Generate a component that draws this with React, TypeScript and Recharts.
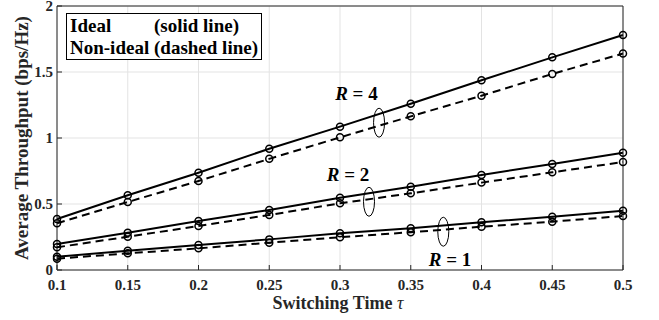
import React from 'react';
import { LineChart, Line, XAxis, YAxis, CartesianGrid, ReferenceDot } from 'recharts';

// switching time values on the x axis
const TAU = [0.1, 0.15, 0.2, 0.25, 0.3, 0.35, 0.4, 0.45, 0.5];
const Y_TICKS = [0, 0.5, 1, 1.5, 2];

// throughput, R = 4 / 2 / 1
const R4_IDEAL = [0.386, 0.566, 0.737, 0.919, 1.086, 1.26, 1.437, 1.611, 1.78];
const R4_NONIDEAL = [0.354, 0.515, 0.674, 0.842, 1.005, 1.164, 1.32, 1.485, 1.64];
const R2_IDEAL = [0.197, 0.283, 0.371, 0.455, 0.548, 0.631, 0.72, 0.803, 0.889];
const R2_NONIDEAL = [0.172, 0.252, 0.333, 0.417, 0.505, 0.581, 0.662, 0.74, 0.818];
const R1_IDEAL = [0.101, 0.146, 0.189, 0.232, 0.278, 0.316, 0.361, 0.404, 0.449];
const R1_NONIDEAL = [0.086, 0.126, 0.164, 0.207, 0.248, 0.286, 0.328, 0.366, 0.409];

// "R = n" labels and the ellipses grouping each pair of curves
const R_LABELS = [
  { r: '4', x: 0.3116, y: 1.288 },
  { r: '2', x: 0.3057, y: 0.677 },
  { r: '1', x: 0.3777, y: 0.03 },
];
const ELLIPSES = [
  { x: 0.3276, y: 1.116 },
  { x: 0.3205, y: 0.517 },
  { x: 0.373, y: 0.29 },
];

const data = TAU.map((t, i) => ({
  tau: t,
  r4i: R4_IDEAL[i],
  r4n: R4_NONIDEAL[i],
  r2i: R2_IDEAL[i],
  r2n: R2_NONIDEAL[i],
  r1i: R1_IDEAL[i],
  r1n: R1_NONIDEAL[i],
}));

const FONT = 'Liberation Serif, Times New Roman, Times, DejaVu Serif, serif';
const AXIS = '#262626';
const tickStyle = { fill: AXIS, fontSize: 15, fontWeight: 'bold', fontFamily: FONT };
const dot = { r: 3.5, fill: 'none', stroke: '#000', strokeWidth: 1.5, strokeDasharray: '' };

const xTitle = (props: any) => {
  const vb = props.viewBox;
  return (
    <text x={vb.x + vb.width / 2 - 2} y={vb.y + 39} textAnchor="middle"
      style={{ fontFamily: FONT, fontWeight: 'bold', fontSize: 18 }} fill={AXIS}>
      Switching Time <tspan fontStyle="italic" fontWeight="normal">τ</tspan>
    </text>
  );
};

const yTitle = (props: any) => {
  const vb = props.viewBox;
  const cx = 28;
  const cy = vb.y + vb.height / 2;
  return (
    <text x={cx} y={cy} transform={`rotate(-90, ${cx}, ${cy})`} textAnchor="middle"
      style={{ fontFamily: FONT, fontWeight: 'bold', fontSize: 19 }} fill={AXIS}>
      Average Throughput (bps/Hz)
    </text>
  );
};

export default function App() {
  return (
    <div style={{ position: 'absolute', left: 0, top: 0, width: 659, height: 320, background: '#fff' }}>
      <LineChart width={659} height={320} data={data} margin={{ top: 5, right: 35, bottom: 6, left: 27 }}>
        <CartesianGrid stroke="#e3e3e3" strokeWidth={1} />
        <XAxis dataKey="tau" type="number" domain={[0.1, 0.5]} ticks={TAU} interval={0}
          tickFormatter={(v) => String(v)} height={44} stroke={AXIS} tickSize={-5} tickMargin={14}
          tick={tickStyle} label={xTitle} />
        <XAxis xAxisId="top" orientation="top" type="number" domain={[0.1, 0.5]} ticks={TAU}
          interval={0} height={1} stroke={AXIS} tickSize={-5} tick={false} />
        <YAxis type="number" domain={[0, 2]} ticks={Y_TICKS} interval={0} width={30}
          tickFormatter={(v) => String(v)} stroke={AXIS} tickSize={-5} tickMargin={9}
          tick={tickStyle} label={yTitle} />
        <YAxis yAxisId="right" orientation="right" type="number" domain={[0, 2]} ticks={Y_TICKS}
          interval={0} width={1} stroke={AXIS} tickSize={-5} tick={false} />

        <Line dataKey="r4i" stroke="#000" strokeWidth={2} dot={dot} isAnimationActive={false} />
        <Line dataKey="r4n" stroke="#000" strokeWidth={2} strokeDasharray="8 5" dot={dot} isAnimationActive={false} />
        <Line dataKey="r2i" stroke="#000" strokeWidth={2} dot={dot} isAnimationActive={false} />
        <Line dataKey="r2n" stroke="#000" strokeWidth={2} strokeDasharray="8 5" dot={dot} isAnimationActive={false} />
        <Line dataKey="r1i" stroke="#000" strokeWidth={2} dot={dot} isAnimationActive={false} />
        <Line dataKey="r1n" stroke="#000" strokeWidth={2} strokeDasharray="8 5" dot={dot} isAnimationActive={false} />

        {ELLIPSES.map((e, i) => (
          <ReferenceDot key={`e-${i}`} x={e.x} y={e.y} isFront
            shape={(p: any) => (
              <ellipse cx={p.cx} cy={p.cy} rx={5.5} ry={14.5} fill="none" stroke="#000" strokeWidth={1} />
            )} />
        ))}
        {R_LABELS.map((l) => (
          <ReferenceDot key={`r-${l.r}`} x={l.x} y={l.y} isFront
            shape={(p: any) => (
              <text x={p.cx} y={p.cy} textAnchor="middle" fill="#000"
                style={{ fontFamily: FONT, fontWeight: 'bold', fontSize: 19 }}>
                <tspan fontStyle="italic">R</tspan> = {l.r}
              </text>
            )} />
        ))}
      </LineChart>

      <div style={{
        position: 'absolute', left: 66, top: 13, width: 196, height: 47, boxSizing: 'border-box',
        border: '1px solid #000', background: '#fff', fontFamily: FONT, fontWeight: 'bold',
        fontSize: 19, lineHeight: '22px', padding: '1px 0 0 3px', color: '#000',
      }}>
        <div style={{ display: 'flex' }}><span style={{ width: 84 }}>Ideal</span><span>(solid line)</span></div>
        <div style={{ display: 'flex' }}><span style={{ width: 84 }}>Non-ideal</span><span>(dashed line)</span></div>
      </div>
    </div>
  );
}
